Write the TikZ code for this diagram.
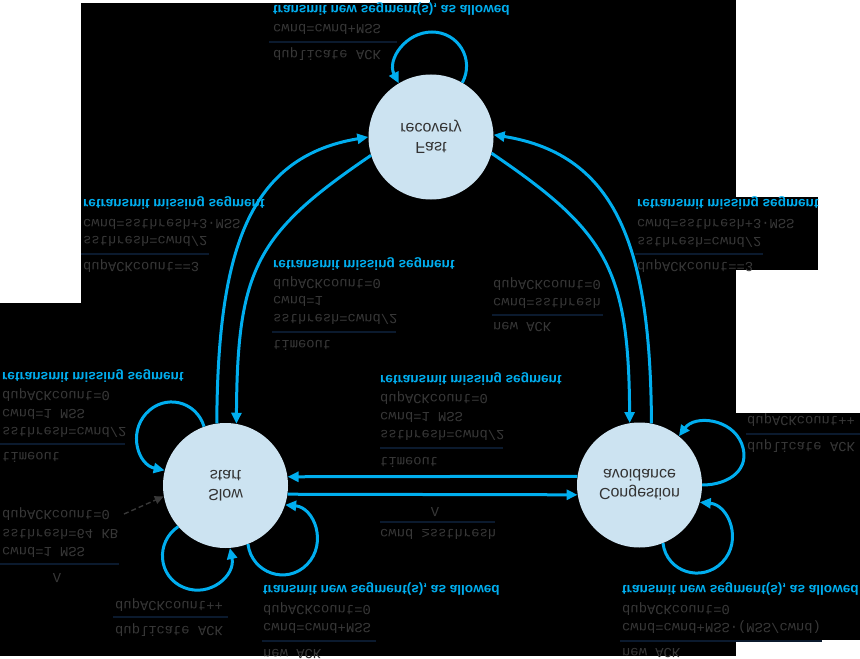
\documentclass[tikz,border=0pt]{standalone}
\usepackage{fontspec}
\setmainfont{Liberation Sans}
\newfontfamily\monof{Liberation Mono}
\usetikzlibrary{arrows.meta}
\definecolor{cy}{HTML}{00AEEF}
\definecolor{txt}{HTML}{383838}
\definecolor{rulec}{HTML}{0B1A2E}
\definecolor{circ}{HTML}{CCE3F1}
\definecolor{lbl}{HTML}{333333}
\tikzset{
 state/.style={circle, fill=circ, minimum size=125bp, inner sep=0pt, align=center, text=lbl, font=\fontsize{16bp}{19bp}\selectfont},
 act/.style={anchor=mid west, inner sep=0pt, text=cy, font=\fontsize{13.6bp}{16bp}\selectfont\bfseries},
 cond/.style={anchor=mid west, inner sep=0pt, text=txt, font=\monof\fontsize{13.8bp}{16bp}\selectfont},
 sep/.style={draw=rulec, line width=1.6bp},
 tr/.style={draw=cy, line width=3bp, -{Triangle[length=11bp,width=10bp]}},
 initarrow/.style={draw=txt, line width=1.4bp, dash pattern=on 5bp off 3bp, -{Triangle[length=9bp,width=8bp]}},
}
\begin{document}
\begin{tikzpicture}[x=1bp,y=1bp]
\begin{scope}[yscale=-1, transform shape]
\useasboundingbox (0,0) rectangle (860,659);
\fill[black] (0,0) rectangle (860,659);
\fill[white] (0,0) rectangle (81,303);
\fill[white] (81,0) rectangle (430,3);
\fill[white] (736,0) rectangle (860,197);
\fill[white] (818,197) rectangle (860,270);
\fill[white] (736,270) rectangle (860,413);
\fill[white] (736,640) rectangle (860,659);
\fill[white] (0,656) rectangle (860,659);

% states
\node[state] (fr) at (431,137) {Fast\\recovery};
\node[state] (ss) at (225.5,485.5) {Slow\\start};
\node[state] (ca) at (639.5,485) {Congestion\\avoidance};

% transitions between states
\draw[tr] (ss.-98) .. controls +(1,-173) and +(-120,20) .. (fr.180);
\draw[tr] (fr.163) .. controls +(-115,78) and +(1,-155) .. (ss.-80);
\draw[tr] (ca.-79) .. controls +(-1,-173) and +(125,20) .. (fr.-2);
\draw[tr] (fr.15) .. controls +(115,78) and +(-1,-155) .. (ca.-99);
\draw[tr] (ca.-172) -- (ss.-8);
\draw[tr] (ss.8.5) -- (ca.171.5);

% self loops
\draw[tr] (fr.-60) .. controls +(12.4,-23.3) and +(26.4,0) .. (432,32) .. controls +(-26.4,0) and +(-12,-23.5) .. (fr.-121);
\draw[tr] (ss.-110) .. controls +(-7.9,-25.9) and +(18.3,-20) .. (146.2,413.4) .. controls +(-18.3,20) and +(-26.5,-5.6) .. (ss.-166);
\draw[tr] (ss.139) .. controls +(-23.2,15.7) and +(-26,-10.5) .. (183.9,587.5) .. controls +(26,10.5) and +(5.8,27.4) .. (ss.86);
\draw[tr] (ss.69) .. controls +(3.6,29.2) and +(-20.4,21.1) .. (307.2,564.3) .. controls +(20.4,-21.1) and +(29.3,2.6) .. (ss.18);
\draw[tr] (ca.0) .. controls +(27,0) and +(9.7,25.2) .. (741.7,443.8) .. controls +(-9.7,-25.2) and +(15.9,-21.8) .. (ca.-51);
\draw[tr] (ca.68) .. controls +(3.6,29.2) and +(-20.4,21.1) .. (722.4,562.1) .. controls +(20.4,-21.1) and +(29.3,2.6) .. (ca.16);

% initial
\coordinate (init) at (124,514);
\draw[initarrow] (init) -- (ss.170);

% Block A
\node[act] (a1) at (273,8) {transmit new segment(s), as allowed};
\node[cond] (a2) at (273,27) {cwnd=cwnd+MSS};
\draw[sep] (269,42) -- (397,42);
\node[cond] (a3) at (273,53) {duplicate ACK};
% Block B
\node[act] (b1) at (83,202) {retransmit missing segment};
\node[cond] (b2) at (83,222) {cwnd=ssthresh+3·MSS};
\node[cond] (b3) at (83,239) {ssthresh=cwnd/2};
\draw[sep] (81,254) -- (209,254);
\node[cond] (b4) at (83,265) {dupACKcount==3};
% Block C
\node[act] (c1) at (273,263) {retransmit missing segment};
\node[cond] (c2) at (273,282) {dupACKcount=0};
\node[cond] (c3) at (273,299) {cwnd=1};
\node[cond] (c4) at (273,317) {ssthresh=cwnd/2};
\draw[sep] (272,332) -- (396,332);
\node[cond] (c5) at (273,343) {timeout};
% Block D
\node[act] (d1) at (637,202) {retransmit missing segment};
\node[cond] (d2) at (637,222) {cwnd=ssthresh+3·MSS};
\node[cond] (d3) at (637,240) {ssthresh=cwnd/2};
\draw[sep] (635,254) -- (763,254);
\node[cond] (d4) at (637,265) {dupACKcount==3};
% Block E
\node[cond] (e1) at (493,283) {dupACKcount=0};
\node[cond] (e2) at (493,301) {cwnd=ssthresh};
\draw[sep] (492,315) -- (603,315);
\node[cond] (e3) at (493,325) {new ACK};
% Block F
\node[act] (f1) at (2,375) {retransmit missing segment};
\node[cond] (f2) at (2,394) {dupACKcount=0};
\node[cond] (f3) at (2,412) {cwnd=1 MSS};
\node[cond] (f4) at (2,430) {ssthresh=cwnd/2};
\draw[sep] (0,444) -- (125,444);
\node[cond] (f5) at (2,455) {timeout};
% Block G
\node[cond] (g1) at (2,513) {dupACKcount=0};
\node[cond] (g2) at (2,532) {ssthresh=64 KB};
\node[cond] (g3) at (2,550) {cwnd=1 MSS};
\draw[sep] (0,564) -- (119,564);
\node[cond, anchor=mid] (g4) at (57,576) {Λ};
% Block H
\node[cond] (h1) at (115,604) {dupACKcount++};
\draw[sep] (113,617) -- (228,617);
\node[cond] (h2) at (115,629) {duplicate ACK};
% Block I
\node[act] (i1) at (263,588) {transmit new segment(s), as allowed};
\node[cond] (i2) at (263,608) {dupACKcount=0};
\node[cond] (i3) at (263,626) {cwnd=cwnd+MSS};
\draw[sep] (262,641) -- (376,641);
\node[cond] (i4) at (263,652) {new ACK};
% Block J
\node[cond] (j1) at (747,419) {dupACKcount++};
\draw[sep] (746,434) -- (860,434);
\node[cond] (j2) at (747,445) {duplicate ACK};
% Block K
\node[act] (k1) at (622,588) {transmit new segment(s), as allowed};
\node[cond] (k2) at (622,608) {dupACKcount=0};
\node[cond] (k3) at (622,626) {cwnd=cwnd+MSS·(MSS/cwnd)};
\draw[sep] (620,641) -- (822,641);
\node[cond] (k4) at (622,651) {new ACK};
% Block L
\node[cond, anchor=mid] (l1) at (435,510) {Λ};
\draw[sep] (380,522) -- (495,522);
\node[cond] (l2) at (380,532) {cwnd ≥ssthresh};
% Block M
\node[act] (m1) at (380,378) {retransmit missing segment};
\node[cond] (m2) at (380,397) {dupACKcount=0};
\node[cond] (m3) at (380,415) {cwnd=1 MSS};
\node[cond] (m4) at (380,433) {ssthresh=cwnd/2};
\draw[sep] (380,448) -- (503,448);
\node[cond] (m5) at (380,460) {timeout};
\end{scope}
\end{tikzpicture}
\end{document}
